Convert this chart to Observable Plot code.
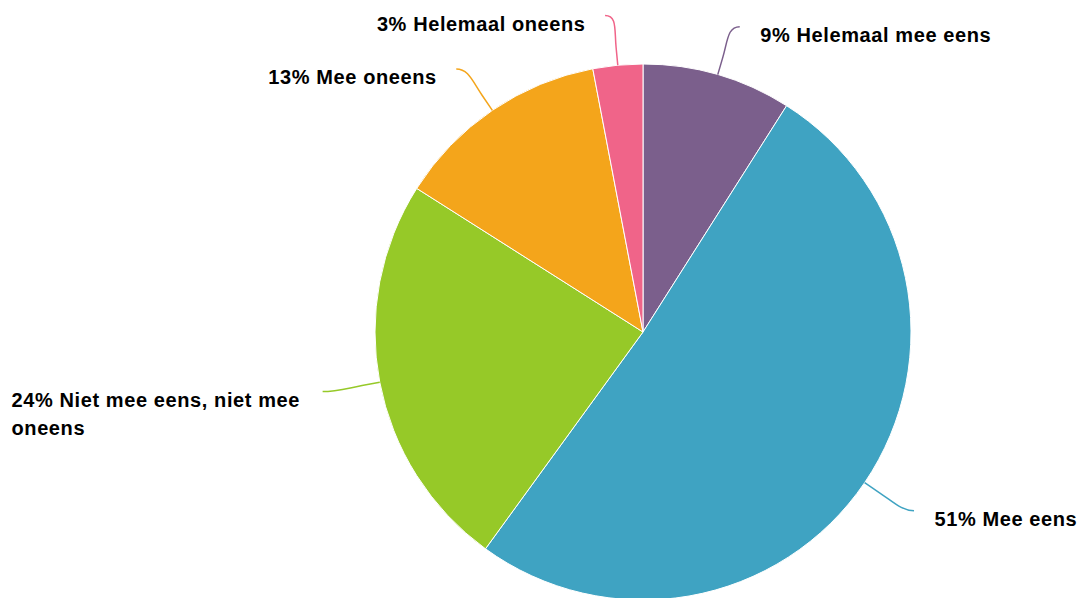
<!DOCTYPE html>
<html>
<head>
<meta charset="utf-8">
<script src="https://cdn.jsdelivr.net/npm/d3@7"></script>
<script src="https://cdn.jsdelivr.net/npm/@observablehq/plot@0.6"></script>
<style>
  html, body { margin: 0; padding: 0; background: #ffffff; }
  #chart svg { display: block; }
  #chart svg text { letter-spacing: 0.6px; }
</style>
</head>
<body>
<div id="chart"></div>
<script>
// ---- data ----
const categories = ["Helemaal mee eens", "Mee eens", "Niet mee eens, niet mee oneens", "Mee oneens", "Helemaal oneens"];
const percentages = [9, 51, 24, 13, 3];
const colors = ["#7b5f8c", "#3fa3c2", "#96c928", "#f4a51b", "#f06489"];

// ---- layout ----
const W = 1081, H = 598;
const cxPx = 643, cyPx = 332, Rpx = 268;
const FONT = '"Liberation Sans", Arial, Helvetica, sans-serif';
const FS = 20, LS = 0.6;
const labelDist = 50;   // px beyond the rim where connector ends
const shiftOut = 8;     // horizontal push of connector end
const labelGap = 20;    // gap between connector end and label
const leftPad = 11;

const rows = categories.map((c, i) => ({category: c, value: percentages[i], color: colors[i]}));
const arcs = d3.pie().sort(null).value(d => d.value)(rows);

// data space: unit = pie radius, y up
const xDomain = [-cxPx / Rpx, (W - cxPx) / Rpx];
const yDomain = [-(H - cyPx) / Rpx, cyPx / Rpx];

const ctx = document.createElement("canvas").getContext("2d");
ctx.font = `bold ${FS}px ${FONT}`;
const measure = s => ctx.measureText(s).width + LS * s.length;

const labels = arcs.map(a => {
  const mid = (a.startAngle + a.endAngle) / 2;
  const re = 1 + labelDist / Rpx;
  const side = Math.sin(mid) >= 0 ? 1 : -1;
  const ex = re * Math.sin(mid), ey = re * Math.cos(mid);
  const text = `${a.data.value}% ${a.data.category}`;
  let kind = side > 0 ? "right" : "left";
  let label = text;
  if (side < 0) {
    const exPx = cxPx + ex * Rpx - shiftOut;
    const avail = exPx - labelGap - leftPad;
    if (measure(text) > avail) {
      kind = "wrapped";
      const words = text.split(" ");
      const lines = [];
      let cur = "";
      for (const w of words) {
        const t = cur ? cur + " " + w : w;
        if (measure(t) > avail && cur) { lines.push(cur); cur = w; } else cur = t;
      }
      lines.push(cur);
      label = lines.join("\n");
    }
  }
  return {mid, side, ex, ey, label, kind, color: a.data.color, xLeft: xDomain[0]};
});

// ---- custom render marks (use Plot scales) ----
function slicesMark(index, scales) {
  const x0 = scales.x(0), y0 = scales.y(0);
  const rp = scales.x(1) - scales.x(0);
  const arcGen = d3.arc().innerRadius(0).outerRadius(rp);
  const g = d3.create("svg:g").attr("transform", `translate(${x0},${y0})`);
  g.selectAll("path").data(arcs).join("path")
    .attr("d", arcGen)
    .attr("fill", d => d.data.color)
    .attr("stroke", "#ffffff")
    .attr("stroke-width", 1)
    .attr("stroke-linejoin", "round");
  return g.node();
}

function connectorsMark(index, scales) {
  const rp = scales.x(1) - scales.x(0);
  const pt = (a, r) => [scales.x(r * Math.sin(a)), scales.y(r * Math.cos(a))];
  const g = d3.create("svg:g").attr("fill", "none").attr("stroke-width", 1.5);
  for (const l of labels) {
    const S = pt(l.mid, 1);
    const B = pt(l.mid, 1 + 18 / rp);
    const C2 = [2 * B[0] - S[0], 2 * B[1] - S[1]];
    const E = [scales.x(l.ex) + l.side * shiftOut, scales.y(l.ey)];
    const C1 = [E[0] - l.side * 12, E[1]];
    const p = d3.path();
    p.moveTo(E[0], E[1]);
    p.bezierCurveTo(C1[0], C1[1], C2[0], C2[1], B[0], B[1]);
    p.lineTo(S[0], S[1]);
    g.append("path").attr("d", p.toString()).attr("stroke", l.color);
  }
  return g.node();
}

const textOpts = {
  x: "ex", y: "ey", text: "label",
  lineAnchor: "top", fontSize: FS, fontWeight: "bold", fontFamily: FONT,
  fill: "#000000", lineHeight: 1.4, dy: -5
};

const chart = Plot.plot({
  width: W, height: H,
  marginTop: 0, marginRight: 0, marginBottom: 0, marginLeft: 0,
  x: {domain: xDomain, axis: null},
  y: {domain: yDomain, axis: null},
  style: {background: "#ffffff", overflow: "hidden"},
  marks: [
    slicesMark,
    connectorsMark,
    Plot.text(labels.filter(d => d.kind === "right"), {...textOpts, textAnchor: "start", dx: shiftOut + labelGap}),
    Plot.text(labels.filter(d => d.kind === "left"), {...textOpts, textAnchor: "end", dx: -(shiftOut + labelGap)}),
    Plot.text(labels.filter(d => d.kind === "wrapped"), {...textOpts, x: "xLeft", textAnchor: "start", dx: leftPad})
  ]
});
document.getElementById("chart").appendChild(chart);
</script>
</body>
</html>
